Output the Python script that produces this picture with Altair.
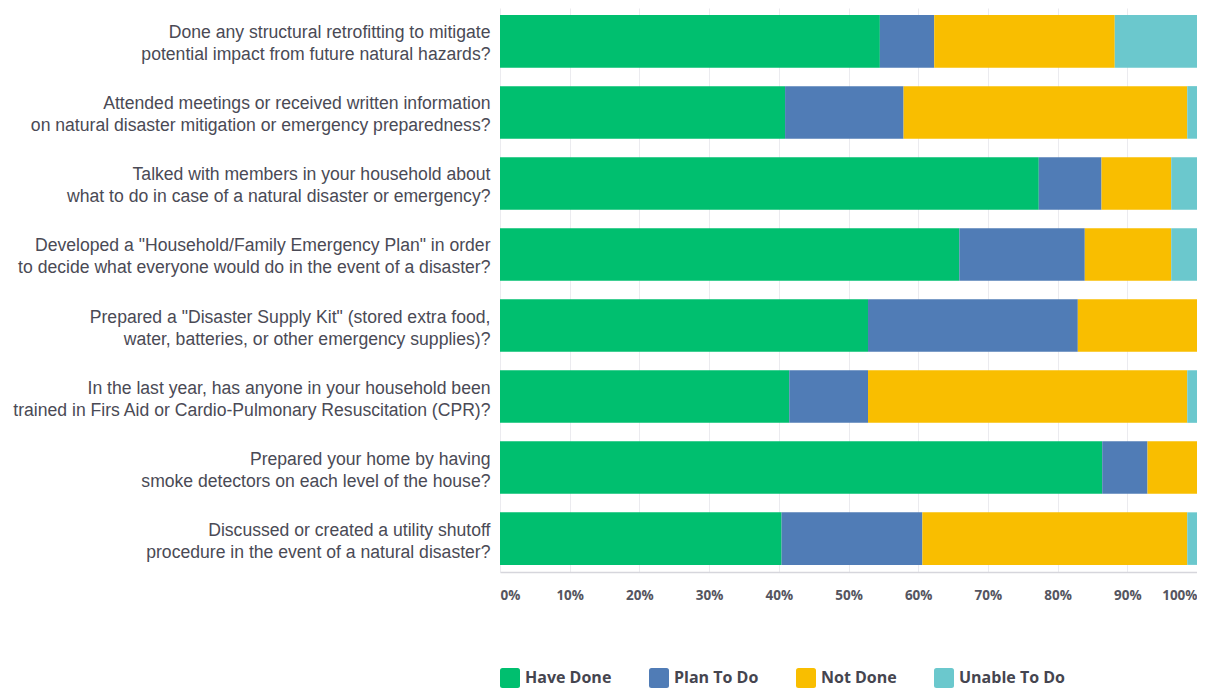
import altair as alt
import pandas as pd

questions = [
    "Done any structural retrofitting to mitigate|potential impact from future natural hazards?",
    "Attended meetings or received written information|on natural disaster mitigation or emergency preparedness?",
    "Talked with members in your household about|what to do in case of a natural disaster or emergency?",
    'Developed a "Household/Family Emergency Plan" in order|to decide what everyone would do in the event of a disaster?',
    'Prepared a "Disaster Supply Kit" (stored extra food,|water, batteries, or other emergency supplies)?',
    "In the last year, has anyone in your household been|trained in Firs Aid or Cardio-Pulmonary Resuscitation (CPR)?",
    "Prepared your home by having|smoke detectors on each level of the house?",
    "Discussed or created a utility shutoff|procedure in the event of a natural disaster?",
]
responses = ["Have Done", "Plan To Do", "Not Done", "Unable To Do"]
have_done = [54.5, 40.9, 77.3, 65.9, 52.8, 41.5, 86.4, 40.4]
plan_to_do = [7.8, 17.0, 9.0, 18.0, 30.1, 11.3, 6.5, 20.2]
not_done = [25.9, 40.7, 10.0, 12.4, 17.1, 45.8, 7.1, 38.0]
unable_to_do = [11.8, 1.4, 3.7, 3.7, 0.0, 1.4, 0.0, 1.4]
tick_values = [0, 10, 20, 30, 40, 50, 60, 70, 80, 90, 100]
colors = ["#00BF6F", "#507CB6", "#F9BE00", "#6BC8CD"]

series = [have_done, plan_to_do, not_done, unable_to_do]
rows = []
for ri, (resp, vals) in enumerate(zip(responses, series)):
    for q, v in zip(questions, vals):
        rows.append({"question": q, "response": resp, "pct": v, "idx": ri})
df = pd.DataFrame(rows)

rounded_square = ("M-0.75,-1 H0.75 Q1,-1 1,-0.75 V0.75 Q1,1 0.75,1 H-0.75 "
                  "Q-1,1 -1,0.75 V-0.75 Q-1,-1 -0.75,-1 Z")

chart = alt.Chart(df).mark_bar().encode(
    y=alt.Y(
        "question:N",
        sort=questions,
        title=None,
        scale=alt.Scale(paddingInner=0.26, paddingOuter=0.1),
        axis=alt.Axis(
            labelExpr="split(datum.label, '|')",
            labelFont="Liberation Sans",
            labelFontSize=17.6,
            labelColor="#4a4a55",
            labelLineHeight=22,
            labelLimit=600,
            labelPadding=10,
            labelOffset=-8,
            ticks=False,
            domain=False,
            grid=False,
        ),
    ),
    x=alt.X(
        "pct:Q",
        stack="zero",
        title=None,
        scale=alt.Scale(domain=[0, 100], nice=False),
        axis=alt.Axis(
            values=tick_values,
            labelExpr="datum.value + '%'",
            labelFlush=True,
            labelFont="Open Sans",
            labelFontWeight="bold",
            labelFontSize=13.5,
            labelColor="#555560",
            labelPadding=16,
            ticks=False,
            domainColor="#d6d6dc",
            domainWidth=1.5,
            gridColor="#ebebef",
        ),
    ),
    color=alt.Color(
        "response:N",
        scale=alt.Scale(domain=responses, range=colors),
        legend=alt.Legend(
            orient="none",
            legendX=0,
            legendY=660,
            direction="horizontal",
            title=None,
            symbolType=rounded_square,
            symbolSize=400,
            symbolStrokeWidth=0,
            symbolOpacity=1,
            labelFont="Open Sans",
            labelFontWeight="bold",
            labelFontSize=16,
            labelColor="#45454f",
            labelOffset=5,
            columnPadding=37,
        ),
    ),
    order=alt.Order("idx:Q"),
).properties(
    width=697,
    height=564,
    autosize=alt.AutoSizeParams(type="none"),
    padding={"left": 492, "top": 0, "right": 0, "bottom": 118},
).configure_view(stroke=None)

chart.save("out.html", embed_options={"renderer": "svg", "actions": False})
